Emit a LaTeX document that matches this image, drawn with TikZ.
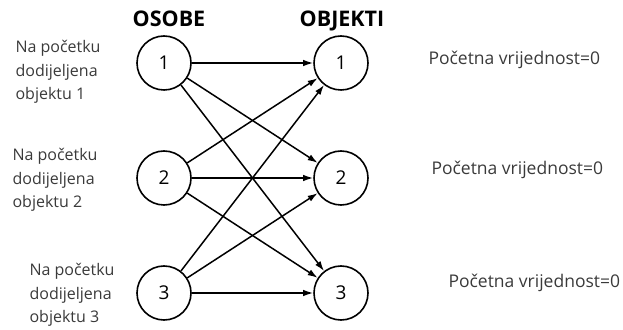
\documentclass[tikz,border=0pt]{standalone}
\usepackage{fontspec}
\setmainfont{Open Sans}
\usetikzlibrary{arrows.meta}
\definecolor{labelgray}{HTML}{3A3A3A}
\begin{document}
\begin{tikzpicture}[x=1pt, y=1pt, node distance={115pt}, >={Latex[length=10pt,width=6.5pt]},
		node/.style = {draw, circle, line width=1.6pt, minimum size=54pt, inner sep=0pt, font=\fontsize{19}{19}\selectfont},
		title/.style = {font=\fontsize{21.5}{21.5}\selectfont\bfseries},
		note/.style = {anchor=west, align=left, text=labelgray, font=\fontsize{16}{23.5}\selectfont},
		value/.style = {anchor=west, text=labelgray, font=\fontsize{17.5}{17.5}\selectfont}]
		\useasboundingbox (0,0) rectangle (623,329);
		\node[node] (o1) at (164,266) {1};
		\node[node] (o2) [below of=o1] {2};
		\node[node] (o3) [below of=o2] {3};
		\node[node] (b1) [right of=o1, node distance=177pt] {1};
		\node[node] (b2) [below of=b1] {2};
		\node[node] (b3) [below of=b2] {3};
		\node[title] (osobe) at (169,310) {OSOBE};
		\node[title] (objekti) at (342,308) {OBJEKTI};
		\node[note] (n1) at (12,257) {Na početku\\dodijeljena\\objektu 1};
		\node[note] (n2) at (9,149) {Na početku\\dodijeljena\\objektu 2};
		\node[note] (n3) at (26,34) {Na početku\\dodijeljena\\objektu 3};
		\node[value] (v1) at (425,269) {Početna vrijednost=0};
		\node[value] (v2) at (428,159) {Početna vrijednost=0};
		\node[value] (v3) at (445,46) {Početna vrijednost=0};
		\draw[->, line width=1.5pt] (o1) to (b1);
		\draw[->, line width=1.5pt] (o1) to (b2);
		\draw[->, line width=1.5pt] (o1) to (b3);
		\draw[->, line width=1.5pt] (o2) to (b1);
		\draw[->, line width=1.5pt] (o2) to (b2);
		\draw[->, line width=1.5pt] (o2) to (b3);
		\draw[->, line width=1.5pt] (o3) to (b1);
		\draw[->, line width=1.5pt] (o3) to (b2);
		\draw[->, line width=1.5pt] (o3) to (b3);

	\end{tikzpicture}
\end{document}
